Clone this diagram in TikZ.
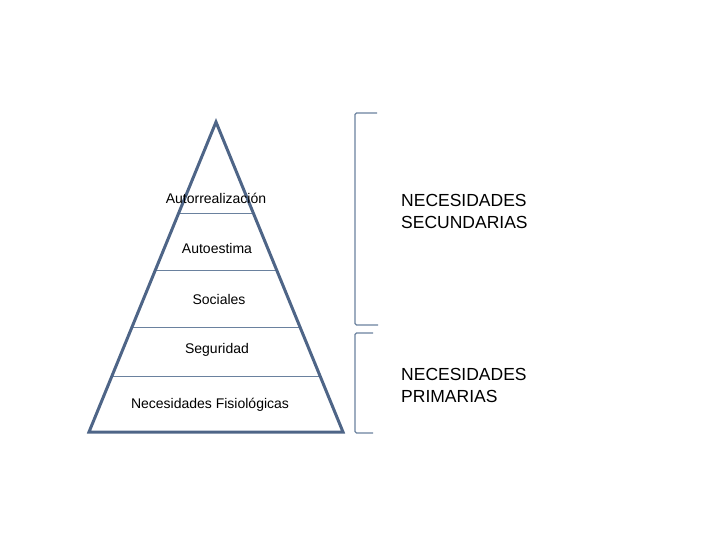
\documentclass[tikz,border=0pt]{standalone}
\usepackage{fontspec}
\setmainfont{Liberation Sans}
\usetikzlibrary{calc}
\definecolor{tri}{HTML}{4E6587}
\definecolor{thin}{HTML}{6A819E}
\begin{document}
\begin{tikzpicture}[x=1pt,y=-1pt,
  lvl/.style={font=\fontsize{14}{16}\selectfont, inner sep=0pt},
  big/.style={font=\fontsize{17.5}{22}\selectfont, inner sep=0pt, align=left, anchor=west},
  sep/.style={draw=thin, line width=0.9pt},
  brk/.style={draw=thin, line width=1.1pt, rounded corners=1.5pt}]
\useasboundingbox (0,0) rectangle (720,540);
% triangle
\coordinate (apex) at (216,122);
\coordinate (bl) at (89,432);
\coordinate (br) at (343,432);
% separator lines
\draw[sep] ($(apex)!0.2935!(bl)$) coordinate (l1) -- ($(apex)!0.2935!(br)$) coordinate (r1);
\draw[sep] ($(apex)!0.4774!(bl)$) coordinate (l2) -- ($(apex)!0.4774!(br)$) coordinate (r2);
\draw[sep] ($(apex)!0.6613!(bl)$) coordinate (l3) -- ($(apex)!0.6613!(br)$) coordinate (r3);
\draw[sep] ($(apex)!0.8194!(bl)$) coordinate (l4) -- ($(apex)!0.8194!(br)$) coordinate (r4);
\draw[draw=tri, line width=3pt, line join=miter] (apex) -- (br) -- (bl) -- cycle;
% labels
\node[lvl] (n1) at (216,198) {Autorrealización};
\node[lvl] (n2) at (217,248) {Autoestima};
\node[lvl] (n3) at (219,299) {Sociales};
\node[lvl] (n4) at (217,350) {Seguridad};
\node[lvl] (n5) at (210,405) {Necesidades Fisiológicas};
% brackets
\coordinate (b1t) at (377,113);
\coordinate (b1b) at (378,325);
\coordinate (b2t) at (373,333);
\coordinate (b2b) at (373,433);
\draw[brk] (b1t) -- (355,113) -- (355,325) -- (b1b);
\draw[brk] (b2t) -- (355,333) -- (355,433) -- (b2b);
\node[big] (sec) at (401,211) {NECESIDADES\\SECUNDARIAS};
\node[big] (pri) at (401,385) {NECESIDADES\\PRIMARIAS};
\end{tikzpicture}
\end{document}
